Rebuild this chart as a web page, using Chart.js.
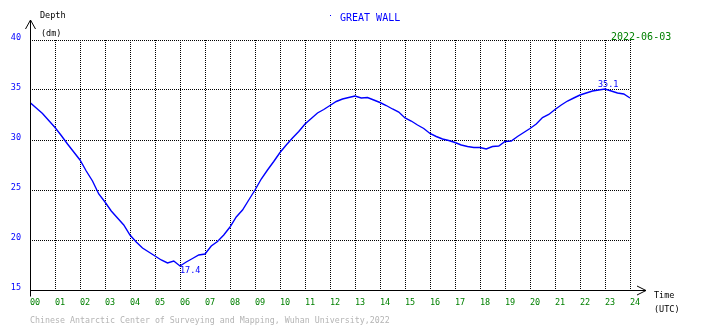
<!DOCTYPE html>
<html>
<head>
<meta charset="utf-8">
<script src="https://cdn.jsdelivr.net/npm/chart.js@4/dist/chart.umd.min.js"></script>
<style>
  html, body { margin: 0; padding: 0; background: #ffffff; }
  canvas { display: block; }
</style>
</head>
<body>
<canvas id="c" width="710" height="328"></canvas>
<script>
// ---- data ----
const times = [
  0, 0.25, 0.5, 0.75, 1, 1.25, 1.5, 1.75, 2, 2.25, 2.5, 2.75,
  3, 3.25, 3.5, 3.75, 4, 4.25, 4.5, 4.75, 5, 5.25, 5.5, 5.75,
  6, 6.25, 6.5, 6.75, 7, 7.25, 7.5, 7.75, 8, 8.25, 8.5, 8.75,
  9, 9.25, 9.5, 9.75, 10, 10.25, 10.5, 10.75, 11, 11.25, 11.5, 11.75,
  12, 12.25, 12.5, 12.75, 13, 13.25, 13.5, 13.75, 14, 14.25, 14.5, 14.75,
  15, 15.25, 15.5, 15.75, 16, 16.25, 16.5, 16.75, 17, 17.25, 17.5, 17.75,
  18, 18.25, 18.5, 18.75, 19, 19.25, 19.5, 19.75, 20, 20.25, 20.5, 20.75,
  21, 21.25, 21.5, 21.75, 22, 22.25, 22.5, 22.75, 23, 23.25, 23.5, 23.75, 24
];
const depth = [
  33.75, 33.2, 32.65, 31.95, 31.25, 30.45, 29.6, 28.8, 28.0, 26.9, 25.9, 24.6,
  23.8, 22.9, 22.2, 21.5, 20.5, 19.8, 19.2, 18.8, 18.4, 18.0, 17.7, 17.9,
  17.4, 17.8, 18.15, 18.5, 18.6, 19.4, 19.85, 20.5, 21.3, 22.3, 23.0, 24.0,
  25.0, 26.1, 27.0, 27.85, 28.75, 29.5, 30.2, 30.85, 31.6, 32.15, 32.7, 33.05,
  33.45, 33.85, 34.1, 34.25, 34.4, 34.2, 34.25, 34.0, 33.75, 33.45, 33.1, 32.8,
  32.2, 31.9, 31.5, 31.15, 30.65, 30.35, 30.1, 29.95, 29.75, 29.5, 29.35, 29.25,
  29.25, 29.1, 29.35, 29.4, 29.85, 29.9, 30.35, 30.75, 31.15, 31.6, 32.25, 32.55,
  33.05, 33.5, 33.9, 34.2, 34.5, 34.7, 34.9, 35.0, 35.1, 34.9, 34.7, 34.6, 34.2
];
const xTickLabels = ['00','01','02','03','04','05','06','07','08','09','10','11','12',
                     '13','14','15','16','17','18','19','20','21','22','23','24'];
const yTicks = [15, 20, 25, 30, 35, 40];
const stationName = 'GREAT WALL';
const dateLabel = '2022-06-03';
const yTitle = 'Depth';
const yUnit = '(dm)';
const xTitle = 'Time';
const xUnit = '(UTC)';
const footer = 'Chinese Antarctic Center of Surveying and Mapping, Wuhan University,2022';

const MONO = '"DejaVu Sans Mono", "Liberation Mono", monospace';

const decorations = {
  id: 'decorations',
  afterDatasetsDraw(chart) {
    const ctx = chart.ctx;
    const xs = chart.scales.x, ys = chart.scales.y;
    // min / max annotations
    let iMin = 0, iMax = 0;
    depth.forEach((v, i) => { if (v < depth[iMin]) iMin = i; if (v > depth[iMax]) iMax = i; });
    ctx.save();
    ctx.fillStyle = '#0000ff';
    ctx.font = '8.5px ' + MONO;
    ctx.textAlign = 'left';
    ctx.textBaseline = 'top';
    ctx.fillText(depth[iMin].toFixed(1), xs.getPixelForValue(times[iMin]), ys.getPixelForValue(depth[iMin]) + 1);
    ctx.textBaseline = 'bottom';
    ctx.fillText(depth[iMax].toFixed(1), xs.getPixelForValue(times[iMax]) - 7, ys.getPixelForValue(depth[iMax]) - 0);
    ctx.restore();
  },
  afterDraw(chart) {
    const ctx = chart.ctx;
    const a = chart.chartArea;
    const L = Math.round(a.left) + 0.5;
    const B = Math.round(a.bottom) + 0.5;
    ctx.save();
    ctx.strokeStyle = '#000000';
    ctx.lineWidth = 1;
    ctx.beginPath();
    // vertical axis with arrow
    ctx.moveTo(L, B + 6);
    ctx.lineTo(L, 20);
    ctx.moveTo(L - 5, 29);
    ctx.lineTo(L, 20);
    ctx.lineTo(L + 5, 29);
    // horizontal axis with arrow
    ctx.moveTo(L, B);
    ctx.lineTo(646, B);
    ctx.moveTo(637, B - 4.5);
    ctx.lineTo(646, B);
    ctx.lineTo(637, B + 4.5);
    ctx.stroke();

    ctx.textAlign = 'left';
    ctx.textBaseline = 'alphabetic';
    ctx.font = '8.5px ' + MONO;
    ctx.fillStyle = '#000000';
    ctx.fillText(yTitle, 40, 18);
    ctx.fillText(yUnit, 41, 35.5);
    ctx.fillText(xTitle, 654, 297.5);
    ctx.fillText(xUnit, 654, 312);
    ctx.font = '8.3px ' + MONO;
    ctx.fillStyle = '#b4b4b4';
    ctx.fillText(footer, 30, 323);

    ctx.font = '10px ' + MONO;
    ctx.fillStyle = '#0000ff';
    ctx.fillRect(330, 15, 1, 1);
    ctx.fillText(stationName, 340, 20.5);
    ctx.fillStyle = '#008000';
    ctx.fillText(dateLabel, 611, 40);
    ctx.restore();
  }
};

new Chart(document.getElementById('c'), {
  type: 'line',
  data: {
    datasets: [{
      data: times.map((t, i) => ({ x: t, y: depth[i] })),
      borderColor: '#0000ff',
      borderWidth: 1.4,
      pointRadius: 0,
      tension: 0,
      fill: false
    }]
  },
  options: {
    responsive: false,
    animation: false,
    devicePixelRatio: 1,
    layout: { padding: { top: 40, right: 80, bottom: 0, left: 0 } },
    plugins: { legend: { display: false }, tooltip: { enabled: false }, title: { display: false } },
    scales: {
      x: {
        type: 'linear', min: 0, max: 24,
        afterFit(scale) { scale.height = 38; },
        afterBuildTicks(scale) { scale.ticks = xTickLabels.map((_, i) => ({ value: i })); },
        ticks: {
          autoSkip: false, maxRotation: 0, minRotation: 0,
          align: 'start', padding: 8,
          color: '#008000',
          font: { family: MONO, size: 8.5 },
          callback: (v) => xTickLabels[v]
        },
        grid: { color: '#000000', lineWidth: 1, drawTicks: false },
        border: { display: false, dash: [1, 1] }
      },
      y: {
        min: 15, max: 40,
        afterFit(scale) { scale.width = 30; },
        afterBuildTicks(scale) { scale.ticks = yTicks.map(v => ({ value: v })); },
        ticks: {
          padding: 9, labelOffset: -2,
          color: '#0000ff',
          font: { family: MONO, size: 8.5 },
          callback: (v) => String(v)
        },
        grid: { color: '#000000', lineWidth: 1, drawTicks: false },
        border: { display: false, dash: [1, 1] }
      }
    }
  },
  plugins: [decorations]
});
</script>
</body>
</html>
